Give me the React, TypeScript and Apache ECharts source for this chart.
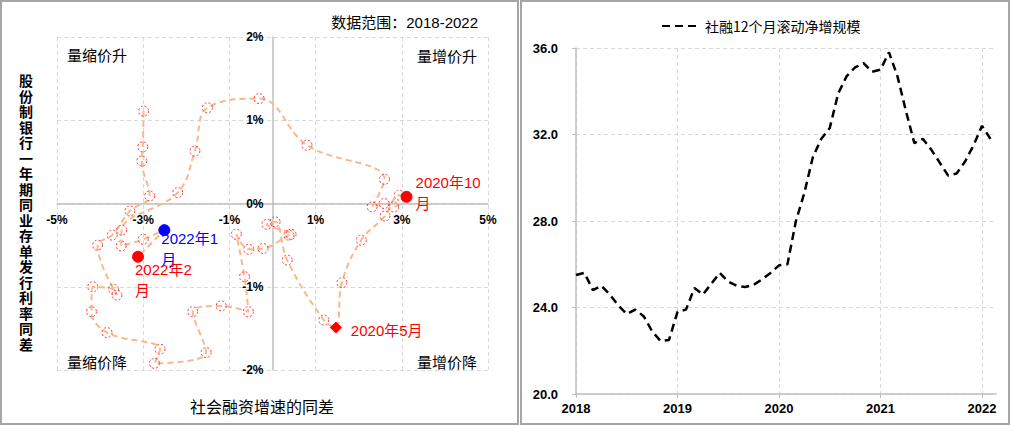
import React, { useEffect, useRef } from "react";
import * as echarts from "echarts";

// ---------- Left panel: TSF growth YoY diff (x, %) vs NCD 1Y rate YoY diff (y, %) ----------
const tsfGrowthDiff = [
  -2.99, -3.01, -3.03, -2.85, -3.31, -3.72, -4.06, -3.61, -3.69, -4.17, -4.2, -3.84,
  -2.61, -2.74, -1.54, -1.85, -1.19, -0.56, -0.65, -0.84, -0.55, -0.22, 0.38, 0.43,
  -0.13, 0.06, 0.34, 1.19, 1.47, 1.61, 2.06, 2.61, 2.94, 3.11, 2.81, 2.59,
  2.31, 2.6, 0.8, -0.31, -1.51, -1.8, -2.2, -3.5, -3.51, -3.0, -2.51, -3.12,
];
const ncdRateDiff = [
  1.11, 0.68, 0.51, 0.09, -0.09, -0.38, -0.5, -1.1, -1.03, -1.0, -1.3, -1.55,
  -1.75, -1.92, -1.79, -1.3, -1.23, -1.3, -0.88, -0.37, -0.55, -0.54, -0.38, -0.37,
  -0.25, -0.22, -0.68, -1.4, -1.49, -0.95, -0.44, -0.15, 0.1, 0.08, -0.04, 0.0,
  -0.04, 0.29, 0.7, 1.26, 1.15, 0.63, 0.13, -0.32, -0.51, -0.43, -0.32, -0.64,
];
// labelled points: index -> label text
const markedIdx = [28, 33, 46, 47];
const markedText = ["2020年5月", "2020年10\n月", "2022年1\n月", "2022年2\n月"];
const markedColor = ["#FF0000", "#FF0000", "#0000FF", "#FF0000"];
const markedSymbol = ["diamond", "circle", "circle", "circle"];

const quadrantLabels = ["量缩价升", "量增价升", "量缩价降", "量增价降"];
const leftTitle = "数据范围：2018-2022";
const leftXName = "社会融资增速的同差";
const leftYName = "股份制银行一年期同业存单发行利率同差";

// ---------- Right panel: 12-month rolling TSF net increase (monthly from 2018-01) ----------
const rollingStartYear = 2018;
const rollingNet = [
  25.5, 25.6, 24.8, 25.0, 24.6, 24.1, 23.7, 23.9, 23.6, 22.9, 22.45, 22.5,
  23.8, 23.9, 24.9, 24.6, 25.1, 25.6, 25.2, 25.0, 24.95, 25.05, 25.3, 25.6,
  25.95, 26.0, 28.0, 29.3, 30.95, 31.8, 32.3, 33.9, 34.7, 35.1, 35.3, 34.9,
  35.0, 35.8, 34.7, 33.1, 31.6, 31.8, 31.3, 30.7, 30.1, 30.2, 30.75, 31.5,
  32.4, 31.8,
];
const rollingName = "社融12个月滚动净增规模";

const LATIN = '"Liberation Sans", Arial, "Noto Sans CJK SC", sans-serif';
const CJK = '"Noto Sans CJK SC", sans-serif';

// layout of the left plot
const L_LEFT = 57, L_RIGHT = 523, L_TOP = 37, L_BOTTOM = 56;
const L_W = 1011 - L_LEFT - L_RIGHT;
const L_H = 426 - L_TOP - L_BOTTOM;

export default function App() {
  const ref = useRef<HTMLDivElement>(null);

  useEffect(() => {
    document.body.style.margin = "0";
    if (!ref.current) return;
    const chart = echarts.init(ref.current, undefined, { renderer: "svg" });

    const labelPos: Record<number, number[]> = {
      28: [21, -2],
      33: [15, -19],
      46: [3, 4],
      47: [3, 8],
    };

    const scatterData = tsfGrowthDiff.map((x, i) => {
      const k = markedIdx.indexOf(i);
      if (k < 0) return [x, ncdRateDiff[i]];
      return {
        value: [x, ncdRateDiff[i]],
        symbol: markedSymbol[k],
        symbolSize: 11,
        itemStyle: {
          color: markedColor[k],
          borderColor: markedColor[k],
          borderType: "solid",
          borderWidth: 1,
        },
        label: {
          show: true,
          formatter: markedText[k],
          position: labelPos[i],
          align: "left",
          verticalAlign: "top",
          color: markedColor[k],
          fontSize: 15,
          lineHeight: 21,
          fontFamily: LATIN,
        },
        z: 5,
      };
    });

    const gridLine = { show: true, lineStyle: { color: "#d9d9d9", type: [4, 3], width: 1 } };

    const yNameChars = leftYName.split("").map((ch, i) => ({
      type: "text",
      x: 26,
      y: 80 + i * 15.5,
      style: {
        text: ch,
        align: "center",
        verticalAlign: "middle",
        fontSize: 14,
        fontWeight: "bold",
        fill: "#000",
        fontFamily: CJK,
      },
    }));

    const option: any = {
      animation: false,
      backgroundColor: "#ffffff",
      textStyle: { fontFamily: LATIN },
      grid: [
        { left: L_LEFT, right: L_RIGHT, top: L_TOP, bottom: L_BOTTOM },
        { left: 576, right: 15, top: 48, bottom: 32 },
      ],
      legend: {
        data: [rollingName],
        left: 656,
        top: 14,
        itemWidth: 38,
        itemHeight: 14,
        itemGap: 6,
        itemStyle: { opacity: 0 },
        textStyle: { fontSize: 14, color: "#000", fontFamily: CJK },
      },
      xAxis: [
        {
          gridIndex: 0,
          type: "value",
          min: -5,
          max: 5,
          interval: 2,
          position: "bottom",
          offset: -L_H / 2,
          axisLine: { onZero: false, lineStyle: { color: "#bfbfbf", width: 1.5 } },
          axisTick: { show: false },
          axisLabel: {
            formatter: (v: number) => v + "%",
            color: "#000",
            fontWeight: "bold",
            fontSize: 12,
            margin: 10,
          },
          splitLine: gridLine,
        },
        {
          gridIndex: 1,
          type: "value",
          min: rollingStartYear,
          max: rollingStartYear + 4.138,
          interval: 1,
          axisLine: { lineStyle: { color: "#bfbfbf", width: 1.5 } },
          axisTick: { show: true, length: 4, lineStyle: { color: "#bfbfbf" } },
          axisLabel: {
            formatter: (v: number) => (Number.isInteger(v) ? String(v) : ""),
            color: "#000",
            fontWeight: "bold",
            fontSize: 13,
            margin: 8,
            showMaxLabel: false,
          },
          splitLine: { ...gridLine, showMaxLine: false },
        },
      ],
      yAxis: [
        {
          gridIndex: 0,
          type: "value",
          min: -2,
          max: 2,
          interval: 1,
          position: "left",
          offset: -L_W / 2,
          axisLine: { onZero: false, show: true, lineStyle: { color: "#bfbfbf", width: 1.5 } },
          axisTick: { show: false },
          axisLabel: {
            formatter: (v: number) => v + "%",
            color: "#000",
            fontWeight: "bold",
            fontSize: 12,
            margin: 9,
          },
          splitLine: gridLine,
        },
        {
          gridIndex: 1,
          type: "value",
          min: 20,
          max: 36,
          interval: 4,
          axisLine: { show: true, lineStyle: { color: "#bfbfbf", width: 1.5 } },
          axisTick: { show: true, length: 4, lineStyle: { color: "#bfbfbf" } },
          axisLabel: {
            formatter: (v: number) => v.toFixed(1),
            color: "#000",
            fontWeight: "bold",
            fontSize: 13,
            margin: 18,
          },
          splitLine: gridLine,
        },
      ],
      series: [
        {
          type: "line",
          name: "量价",
          xAxisIndex: 0,
          yAxisIndex: 0,
          smooth: 0.4,
          data: scatterData,
          symbol: "circle",
          symbolSize: 10,
          itemStyle: {
            color: "rgba(255,255,255,0)",
            borderColor: "#FF3030",
            borderWidth: 1,
            borderType: [2, 2],
          },
          lineStyle: { color: "#F8B98A", width: 2, type: [6, 4] },
          label: { show: false },
        },
        {
          type: "line",
          name: rollingName,
          xAxisIndex: 1,
          yAxisIndex: 1,
          data: rollingNet.map((v, i) => [rollingStartYear + i / 12, v]),
          symbol: "none",
          showSymbol: false,
          lineStyle: { color: "#000", width: 2.5, type: [8, 5] },
          itemStyle: { color: "#000" },
        },
      ],
      graphic: [
        {
          type: "rect",
          shape: { x: 1, y: 1, width: 517, height: 423 },
          style: { fill: "none", stroke: "#a6a6a6", lineWidth: 2 },
          silent: true,
        },
        {
          type: "rect",
          shape: { x: 521, y: 1, width: 488, height: 423 },
          style: { fill: "none", stroke: "#a6a6a6", lineWidth: 2 },
          silent: true,
        },
        {
          type: "text",
          x: 478,
          y: 22,
          style: {
            text: leftTitle,
            align: "right",
            verticalAlign: "middle",
            fontSize: 15,
            fill: "#000",
            fontFamily: LATIN,
          },
        },
        {
          type: "text",
          x: 67,
          y: 54,
          style: { text: quadrantLabels[0], align: "left", verticalAlign: "middle", fontSize: 15, fill: "#000", fontFamily: CJK },
        },
        {
          type: "text",
          x: 477,
          y: 55,
          style: { text: quadrantLabels[1], align: "right", verticalAlign: "middle", fontSize: 15, fill: "#000", fontFamily: CJK },
        },
        {
          type: "text",
          x: 67,
          y: 361,
          style: { text: quadrantLabels[2], align: "left", verticalAlign: "middle", fontSize: 15, fill: "#000", fontFamily: CJK },
        },
        {
          type: "text",
          x: 477,
          y: 361,
          style: { text: quadrantLabels[3], align: "right", verticalAlign: "middle", fontSize: 15, fill: "#000", fontFamily: CJK },
        },
        {
          type: "text",
          x: 262,
          y: 406,
          style: { text: leftXName, align: "center", verticalAlign: "middle", fontSize: 16, fill: "#000", fontFamily: CJK },
        },
        ...yNameChars,
      ],
    };

    chart.setOption(option);
    return () => chart.dispose();
  }, []);

  return <div ref={ref} style={{ width: 1011, height: 426 }} />;
}
